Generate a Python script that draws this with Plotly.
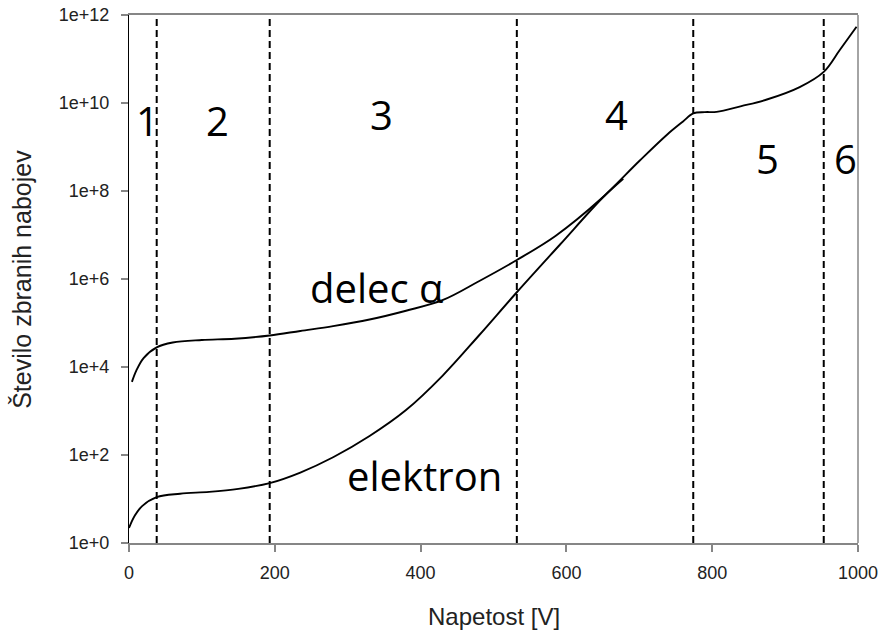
import math
import plotly.graph_objects as go

# ---- data ----
alpha_x = [4, 10, 20, 38, 60, 100, 145, 193, 235, 280, 330, 380, 430, 480, 532,
           585, 646, 700, 738, 760, 774, 790, 806, 840, 875, 920, 953, 975, 998]
alpha_y = [4.6e3, 8.3e3, 1.6e4, 2.8e4, 3.6e4, 4.1e4, 4.4e4, 5.2e4, 6.6e4, 8.5e4,
           1.2e5, 1.9e5, 3.3e5, 8.9e5, 2.7e6, 9.5e6, 6.3e7, 4.8e8, 1.9e9, 3.8e9,
           5.8e9, 6.2e9, 6.3e9, 8.5e9, 1.2e10, 2.3e10, 5.1e10, 1.6e11, 5.4e11]

elec_x = [0, 8, 18, 38, 70, 110, 150, 193, 235, 280, 330, 380, 430, 480, 532,
          591, 650, 678]
elec_y = [2.2, 4.2, 6.9, 11, 13.2, 14.5, 17, 23, 40, 89, 270, 1.05e3, 6.3e3, 5.2e4,
          5.0e5, 6.0e6, 7.1e7, 1.9e8]

boundaries = [38, 193, 532, 774, 953]
region_labels = ["1", "2", "3", "4", "5", "6"]
region_x = [25, 121, 347, 669, 876, 983]
region_y = [4.0e9, 4.0e9, 5.5e9, 5.5e9, 5.6e8, 5.6e8]

curve_labels = ["delec α", "elektron"]
curve_label_x = [340, 405]
curve_label_y = [6.5e5, 3.5e1]

x_ticks = [0, 200, 400, 600, 800, 1000]
y_ticks = [1e0, 1e2, 1e4, 1e6, 1e8, 1e10, 1e12]
y_ticktext = ["1e+0", "1e+2", "1e+4", "1e+6", "1e+8", "1e+10", "1e+12"]

x_title = "Napetost [V]"
y_title = "Število zbranih nabojev"

fig = go.Figure()

for b in boundaries:
    fig.add_trace(go.Scatter(x=[b, b], y=[y_ticks[0], y_ticks[-1]], mode="lines",
                             line=dict(color="black", width=2, dash="7px,4px"),
                             hoverinfo="skip", showlegend=False))

fig.add_trace(go.Scatter(x=alpha_x, y=alpha_y, mode="lines",
                         line=dict(color="black", width=1.9, shape="spline", smoothing=1.0),
                         showlegend=False))
fig.add_trace(go.Scatter(x=elec_x, y=elec_y, mode="lines",
                         line=dict(color="black", width=1.9, shape="spline", smoothing=1.0),
                         showlegend=False))

label_font = dict(family="Open Sans", size=40, color="black")
for t, xx, yy in zip(region_labels, region_x, region_y):
    fig.add_annotation(x=xx, y=math.log10(yy), text=t, showarrow=False, font=label_font)
for t, xx, yy in zip(curve_labels, curve_label_x, curve_label_y):
    fig.add_annotation(x=xx, y=math.log10(yy), text=t, showarrow=False, font=label_font)

# axis titles
fig.add_annotation(x=0.5, y=-0.139, xref="paper", yref="paper", yanchor="middle",
                   text=x_title, showarrow=False,
                   font=dict(family="Liberation Sans, Arial", size=24, color="#222"))
fig.add_annotation(x=-0.147, y=0.5, xref="paper", yref="paper", xanchor="center",
                   text=y_title, textangle=-90, showarrow=False,
                   font=dict(family="Liberation Sans, Arial", size=25, color="#222"))

# right border
fig.add_shape(type="line", xref="paper", yref="paper", x0=1, x1=1, y0=0, y1=1,
              line=dict(color="#868686", width=1.5))

fig.update_xaxes(range=[0, 1000], tickvals=x_ticks, showgrid=False, zeroline=False,
                 showline=True, linecolor="#868686", linewidth=1.5, mirror=True,
                 ticks="outside", ticklen=7, tickcolor="#868686", tickwidth=1.5,
                 ticklabelstandoff=6, automargin=False,
                 tickfont=dict(family="Liberation Sans, Arial", size=18, color="#222"))
fig.update_yaxes(type="log", range=[0, 12], tickvals=y_ticks, ticktext=y_ticktext,
                 showgrid=False, zeroline=False, automargin=False,
                 showline=True, linecolor="black", linewidth=1.2,
                 ticks="outside", ticklen=7, tickcolor="#868686", tickwidth=1.5,
                 ticklabelstandoff=8,
                 tickfont=dict(family="Liberation Sans, Arial", size=18, color="#222"))

fig.update_layout(width=882, height=632, plot_bgcolor="white", paper_bgcolor="white",
                  margin=dict(l=129, r=24, t=15, b=89), showlegend=False)

fig.write_html("out.html")
